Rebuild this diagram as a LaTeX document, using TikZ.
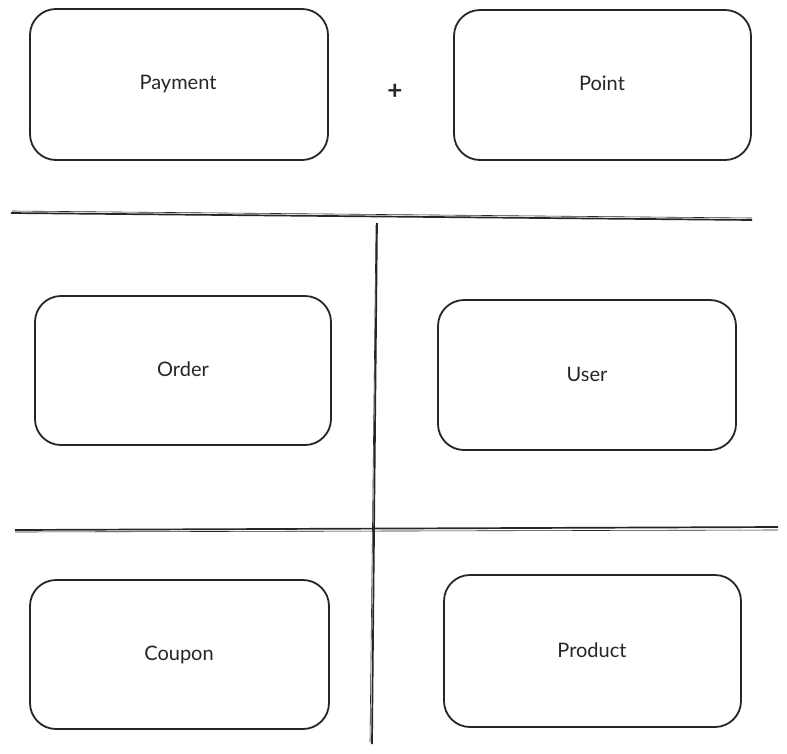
\documentclass[tikz,border=0pt]{standalone}
\usepackage{fontspec}
\setmainfont{Lato}
\begin{document}
\begin{tikzpicture}[x=1pt,y=-1pt,
  card/.style={draw=black!85, line width=1.8pt, rounded corners=26pt},
  lbl/.style={font=\fontsize{20}{24}\selectfont, text=black!85},
  rule/.style={draw=black!85, line width=1.7pt}]
\useasboundingbox[fill=white] (0,0) rectangle (787,753);
% boxes
\draw[card] (30,9) rectangle (328,160);
\node[lbl] (payment) at (178,84) {Payment};
\draw[card] (454,10) rectangle (751,160);
\node[lbl] (point) at (602,83) {Point};
\node[font=\fontsize{26}{28}\selectfont\bfseries, text=black!85] (plus) at (395,92) {+};
\draw[card] (35,296) rectangle (331,445);
\node[lbl] (order) at (183,369) {Order};
\draw[card] (438,300) rectangle (736,450);
\node[lbl] (user) at (587,374) {User};
\draw[card] (30,580) rectangle (329,729);
\node[lbl] (coupon) at (179,655) {Coupon};
\draw[card] (444,575) rectangle (741,727);
\node[lbl] (product) at (592,650) {Product};
% dividers
\coordinate (h1a) at (11,213);
\coordinate (h1b) at (752,220);
\coordinate (h2a) at (15,530);
\coordinate (h2b) at (778,527);
\coordinate (va) at (377,223);
\coordinate (vb) at (372,744);
\draw[rule] (h1a) -- (h1b);
\draw[rule, line width=0.6pt] (12,211) -- (752,218);
\draw[rule] (h2a) -- (h2b);
\draw[rule, line width=0.6pt] (15,532) -- (778,530);
\draw[rule] (va) -- (vb);
\draw[rule, line width=0.6pt] (376,225) -- (370,742);
\end{tikzpicture}
\end{document}
